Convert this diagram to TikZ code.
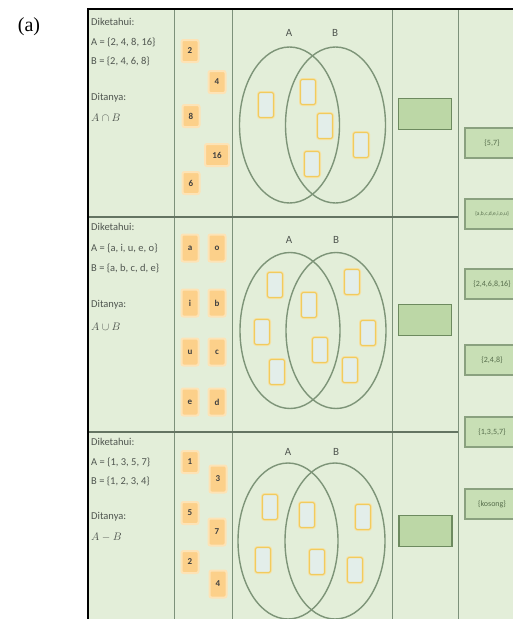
\documentclass[tikz,border=0pt]{standalone}
\usepackage{fontspec}
\setmainfont{Carlito}
\newfontfamily\serif{Liberation Serif}
\usepackage{xcolor}
\usepackage{tikz}
\usepackage{amsmath}
\usetikzlibrary{shapes.geometric}

\definecolor{bg}{HTML}{E3EED9}
\definecolor{gridline}{HTML}{7D917A}
\definecolor{infotext}{HTML}{505650}
\definecolor{tileorange}{HTML}{FCD08A}
\definecolor{tileglow}{HTML}{FDE3B6}
\definecolor{slotyellow}{HTML}{F1CB5E}
\definecolor{slotglow}{HTML}{F5E2A6}
\definecolor{slotfill}{HTML}{E3EEEA}
\definecolor{vennline}{HTML}{7D9478}
\definecolor{boxfill}{HTML}{BCD7A6}
\definecolor{boxline}{HTML}{6D8A5F}
\definecolor{ansfill}{HTML}{C8DFB5}

\begin{document}
\begin{tikzpicture}[x=1pt,y=-1pt,
    info/.style={anchor=west,inner sep=0pt,text=infotext,font=\fontsize{10.5}{12}\selectfont},
    tile/.style={rectangle,rounded corners=2pt,fill=tileorange,draw=tileglow,line width=2pt,
        minimum width=17pt,minimum height=22pt,inner sep=0pt,text=black!75,
        font=\fontsize{9}{9}\selectfont\bfseries},
    talltile/.style={tile,minimum height=27pt},
    slot/.style={rectangle,rounded corners=2pt,draw=slotyellow,line width=1.1pt,fill=slotfill,
        minimum width=15pt,minimum height=25pt,inner sep=0pt,
        preaction={draw=slotglow,line width=3pt}},
    venn/.style={ellipse,draw=vennline,line width=1.4pt,minimum width=100pt,minimum height=156pt,inner sep=0pt},
    setname/.style={inner sep=0pt,text=infotext,font=\fontsize{11}{11}\selectfont},
    emptybox/.style={rectangle,fill=boxfill,draw=boxline,line width=1.5pt,minimum width=53pt,minimum height=31pt},
    answer/.style={rectangle,fill=ansfill,draw=boxline!80,line width=1.5pt,minimum width=54pt,minimum height=30pt,
        inner sep=1pt,text=boxline!80!black,font=\fontsize{8}{8}\selectfont}]
    \useasboundingbox (0,0) rectangle (513,619);
    % Table
    \fill[bg] (88,9) rectangle (513,619);
    \draw[gridline,line width=1pt] (174,9) -- (174,619);
    \draw[gridline,line width=1pt] (232,9) -- (232,619);
    \draw[gridline,line width=1pt] (392,9) -- (392,619);
    \draw[gridline,line width=1pt] (458,9) -- (458,619);
    \draw[gridline!80!black,line width=1.2pt] (88,217) -- (458,217);
    \draw[gridline!80!black,line width=1.2pt] (88,432) -- (458,432);
    \draw[line width=2pt] (88,619) -- (88,9) -- (513,9);
    \node[font=\serif\fontsize{20}{20}\selectfont] (a) at (29,27) {(a)};
    % Row 1
    \node[info] (given1) at (91,22) {Diketahui:};
    \node[info] (seta1) at (91,42) {A = \{2, 4, 8, 16\}};
    \node[info] (setb1) at (91,61) {B = \{2, 4, 6, 8\}};
    \node[info] (ask1) at (91,98) {Ditanya:};
    \node[info] (expr1) at (91,118) {$A\cap B$};
    \node[tile] (t2) at (190,51) {2};
    \node[tile] (t4) at (217,82) {4};
    \node[tile] (t8) at (191,116) {8};
    \node[tile,minimum width=24pt] (t16) at (217,155) {16};
    \node[tile] (t6) at (191,183) {6};
    \node[venn] (A1) at (289.5,125) {};
    \node[venn] (B1) at (335.5,125) {};
    \node[setname] (la1) at (289,33) {A};
    \node[setname] (lb1) at (335,33) {B};
    \node[slot] (s11) at (266,105) {};
    \node[slot] (s12) at (308,92) {};
    \node[slot] (s13) at (325,126) {};
    \node[slot] (s14) at (312,164) {};
    \node[slot] (s15) at (361,145) {};
    \node[emptybox] (box1) at (425,114) {};
    % Row 2
    \node[info] (given2) at (91,227) {Diketahui:};
    \node[info] (seta2) at (91,248) {A = \{a, i, u, e, o\}};
    \node[info] (setb2) at (91,268) {B = \{a, b, c, d, e\}};
    \node[info] (ask2) at (91,305) {Ditanya:};
    \node[info] (expr2) at (91,327) {$A\cup B$};
    \node[talltile] (ta) at (190,248) {a};
    \node[talltile] (to) at (217,248) {o};
    \node[talltile] (ti) at (190,303) {i};
    \node[talltile] (tb) at (217,303) {b};
    \node[talltile] (tu) at (190,352) {u};
    \node[talltile] (tc) at (217,352) {c};
    \node[talltile] (te) at (190,402) {e};
    \node[talltile] (td) at (217,402) {d};
    \node[venn] (A2) at (290,330.5) {};
    \node[venn] (B2) at (336,330.5) {};
    \node[setname] (la2) at (289,240) {A};
    \node[setname] (lb2) at (336,240) {B};
    \node[slot] (s21) at (275,285) {};
    \node[slot] (s22) at (262,332) {};
    \node[slot] (s23) at (277,372) {};
    \node[slot] (s24) at (309,305) {};
    \node[slot] (s25) at (320,350) {};
    \node[slot] (s26) at (352,282) {};
    \node[slot] (s27) at (368,333) {};
    \node[slot] (s28) at (350,370) {};
    \node[emptybox] (box2) at (425,320) {};
    % Row 3
    \node[info] (given3) at (91,442) {Diketahui:};
    \node[info] (seta3) at (91,462) {A = \{1, 3, 5, 7\}};
    \node[info] (setb3) at (91,481) {B = \{1, 2, 3, 4\}};
    \node[info] (ask3) at (91,517) {Ditanya:};
    \node[info] (expr3) at (91,537) {$A-B$};
    \node[tile] (t1) at (190,462) {1};
    \node[talltile] (t3) at (218,479) {3};
    \node[tile] (t5) at (190,513) {5};
    \node[talltile] (t7) at (217,532) {7};
    \node[tile] (t2b) at (190,562) {2};
    \node[talltile] (t4b) at (218,584) {4};
    \node[venn] (A3) at (288,541) {};
    \node[venn] (B3) at (335,541) {};
    \node[setname] (la3) at (288,452) {A};
    \node[setname] (lb3) at (336,452) {B};
    \node[slot] (s31) at (270,507) {};
    \node[slot] (s32) at (263,560) {};
    \node[slot] (s33) at (307,515) {};
    \node[slot] (s34) at (317,562) {};
    \node[slot] (s35) at (363,517) {};
    \node[slot] (s36) at (355,570) {};
    \node[emptybox] (box3) at (425.5,531) {};
    % Answers
    \node[answer] (ans1) at (492,143) {\{5,7\}};
    \node[answer,font=\fontsize{5.5}{5.5}\selectfont] (ans2) at (492,214) {\{a,b,c,d,e,i,o,u\}};
    \node[answer] (ans3) at (492,284) {\{2,4,6,8,16\}};
    \node[answer] (ans4) at (492,360) {\{2,4,8\}};
    \node[answer] (ans5) at (492,432) {\{1,3,5,7\}};
    \node[answer] (ans6) at (492,504) {\{kosong\}};
\end{tikzpicture}
\end{document}
